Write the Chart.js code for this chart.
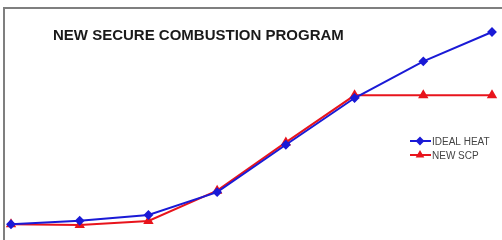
<!DOCTYPE html>
<html>
<head>
<meta charset="utf-8">
<script src="https://cdn.jsdelivr.net/npm/chart.js@4"></script>
<style>
  body { margin: 0; background: #fff; }
  #wrap { width: 502px; height: 240px; }
</style>
</head>
<body>
<div id="wrap"><canvas id="can" width="502" height="240"></canvas></div>
<script>
// data (relative units, top of blue line = 100)
const kategorije = ['1', '2', '3', '4', '5', '6', '7', '8']
const idealHeat = [0.4, 2.2, 5.2, 17.0, 41.6, 65.8, 84.8, 100]
const newScp = [0.4, 0, 2.1, 17.8, 42.8, 67.2, 67.2, 67.2]
const naslov = 'NEW SECURE COMBUSTION PROGRAM'

// frame, title and legend drawn on the canvas
const okvir = {
    id: 'okvir',
    beforeDraw(chart) {
        const ctx = chart.ctx
        ctx.save()
        ctx.fillStyle = '#ffffff'
        ctx.fillRect(0, 0, chart.width, chart.height)
        ctx.strokeStyle = '#7f7f7f'
        ctx.lineWidth = 2
        ctx.beginPath()
        ctx.moveTo(4, 240)
        ctx.lineTo(4, 8)
        ctx.lineTo(502, 8)
        ctx.stroke()
        ctx.restore()
    },
    afterDraw(chart) {
        const ctx = chart.ctx
        ctx.save()
        ctx.fillStyle = '#1a1a1a'
        ctx.font = 'bold 15px "Liberation Sans", Arial, sans-serif'
        ctx.textBaseline = 'middle'
        ctx.fillText(naslov, 53, 36)

        // legenda
        ctx.font = '10px "Liberation Sans", Arial, sans-serif'
        chart.data.datasets.forEach((ds, i) => {
            const y = 141 + i * 14
            ctx.strokeStyle = ds.borderColor
            ctx.lineWidth = 2
            ctx.beginPath()
            ctx.moveTo(410, y)
            ctx.lineTo(431, y)
            ctx.stroke()
            Chart.helpers.drawPoint(ctx, {
                pointStyle: ds.pointStyle,
                radius: 3,
                borderWidth: 1
            }, 420, y)
            ctx.fillStyle = ds.borderColor
            ctx.fill()
            ctx.fillStyle = '#444'
            ctx.fillText(ds.label, 432, y + 1)
        })
        ctx.restore()
    }
}

const grapharea = document.getElementById('can')
const chart = new Chart(grapharea, {
    type: 'line',
    data: {
        labels: kategorije,
        datasets: [
            {
                label: 'IDEAL HEAT',
                data: idealHeat,
                borderColor: '#1a1ad6',
                backgroundColor: '#1a1ad6',
                borderWidth: 2,
                pointStyle: 'rectRot',
                pointRadius: 3.5,
                tension: 0,
                clip: false
            },
            {
                label: 'NEW SCP',
                data: newScp,
                borderColor: '#e8141c',
                backgroundColor: '#e8141c',
                borderWidth: 2,
                pointStyle: 'triangle',
                pointRadius: 4,
                tension: 0,
                clip: false
            }
        ]
    },
    options: {
        responsive: false,
        animation: false,
        layout: { padding: { left: 11, right: 10, top: 32, bottom: 15 } },
        plugins: {
            legend: { display: false },
            title: { display: false },
            tooltip: { enabled: false }
        },
        scales: {
            x: { display: false, offset: false },
            y: { display: false, min: 0, max: 100 }
        }
    },
    plugins: [okvir]
})
</script>
</body>
</html>
